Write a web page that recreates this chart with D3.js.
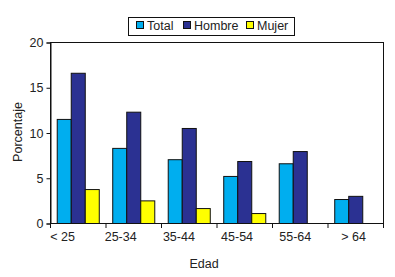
<!DOCTYPE html>
<html>
<head>
<meta charset="utf-8">
<script src="https://cdn.jsdelivr.net/npm/d3@7"></script>
<style>
    body { margin: 0; background: #fff; }
    text { font-family: "Liberation Sans", Arial, sans-serif; fill: #222; }
</style>
</head>
<body>
<svg id="chart"></svg>
<script>
// Data
const categories = ["< 25", "25-34", "35-44", "45-54", "55-64", "> 64"];
const seriesNames = ["Total", "Hombre", "Mujer"];
const total = [11.5, 8.3, 7.05, 5.2, 6.6, 2.65];
const hombre = [16.6, 12.3, 10.5, 6.85, 7.95, 3.0];
const mujer = [3.75, 2.5, 1.65, 1.1, null, null];
const yTicks = [0, 5, 10, 15, 20];

const colors = ["#00aeef", "#2b3192", "#ffff00"];

const width = 395, height = 277;
const margin = { top: 42, right: 12, bottom: 54, left: 50 };

let svg = d3.select("#chart")
    .attr("width", width)
    .attr("height", height);

let rows = categories.map((c, i) => ({
    cat: c,
    values: [total[i], hombre[i], mujer[i]]
}));

// Scales
let x = d3.scaleBand()
    .domain(categories)
    .range([margin.left, width - margin.right])
    .padding(0);

let xSub = d3.scaleBand()
    .domain(seriesNames)
    .range([0, x.bandwidth()])
    .paddingInner(0)
    .paddingOuter(0.48);

// labels in the original sit a bit off the band centres
let xLabel = d3.scalePoint()
    .domain(categories)
    .range([62.5, 353.5]);

let y = d3.scaleLinear()
    .domain([0, 20])
    .range([height - margin.bottom, margin.top]);

let colorScale = d3.scaleOrdinal().domain(seriesNames).range(colors);

// Bars
svg.append("g")
    .selectAll("g")
    .data(rows)
    .join("g")
    .attr("transform", d => `translate(${x(d.cat)},0)`)
    .selectAll("rect")
    .data(d => d.values.map((v, j) => ({ key: seriesNames[j], value: v })).filter(d => d.value !== null))
    .join("rect")
    .attr("x", d => xSub(d.key) + 0.5)
    .attr("y", d => y(d.value) + 0.5)
    .attr("width", xSub.bandwidth())
    .attr("height", d => y(0) - y(d.value))
    .attr("fill", d => colorScale(d.key))
    .attr("stroke", "#111")
    .attr("stroke-width", 1);

// Plot frame
svg.append("rect")
    .attr("x", margin.left + 0.5)
    .attr("y", margin.top + 0.5)
    .attr("width", width - margin.left - margin.right)
    .attr("height", y(0) - margin.top)
    .attr("fill", "none")
    .attr("stroke", "#111");

// Y axis
let yAxis = g => g
    .attr("transform", `translate(${margin.left + 0.5},0.5)`)
    .call(d3.axisLeft(y).tickValues(yTicks).tickSize(4).tickPadding(3))
    .call(g => g.select(".domain").attr("stroke", "#111"))
    .call(g => g.selectAll(".tick line").attr("stroke", "#111"))
    .call(g => g.selectAll("text").style("font-size", "12.5px").attr("fill", "#222"));

svg.append("g").call(yAxis);

// X axis: ticks at the category boundaries
let bounds = categories.map(c => x(c)).concat([x.range()[1]]);
svg.append("g")
    .selectAll("line")
    .data(bounds)
    .join("line")
    .attr("x1", d => d + 0.5)
    .attr("x2", d => d + 0.5)
    .attr("y1", y(0) + 0.5)
    .attr("y2", y(0) + 5)
    .attr("stroke", "#111");

svg.append("g")
    .selectAll("text")
    .data(categories)
    .join("text")
    .attr("x", d => xLabel(d))
    .attr("y", y(0) + 18)
    .attr("text-anchor", "middle")
    .style("font-size", "12.5px")
    .text(d => d);

// Axis titles
svg.append("text")
    .attr("x", 204)
    .attr("y", 268)
    .attr("text-anchor", "middle")
    .style("font-size", "12.5px")
    .text("Edad");

svg.append("text")
    .attr("transform", "translate(22,132) rotate(-90)")
    .attr("text-anchor", "middle")
    .style("font-size", "12.5px")
    .text("Porcentaje");

// Legend
let legend = svg.append("g");
legend.append("rect")
    .attr("x", 128.5)
    .attr("y", 17.5)
    .attr("width", 166)
    .attr("height", 18)
    .attr("fill", "#fff")
    .attr("stroke", "#111");

let legendX = [136, 183, 246];
let items = legend.selectAll("g")
    .data(seriesNames)
    .join("g")
    .attr("transform", (d, i) => `translate(${legendX[i]},21)`);

items.append("rect")
    .attr("x", 0.5)
    .attr("y", 0.5)
    .attr("width", 7)
    .attr("height", 7)
    .attr("fill", d => colorScale(d))
    .attr("stroke", "#111");

items.append("text")
    .attr("x", 11)
    .attr("y", 8.5)
    .style("font-size", "12.5px")
    .text(d => d);
</script>
</body>
</html>
